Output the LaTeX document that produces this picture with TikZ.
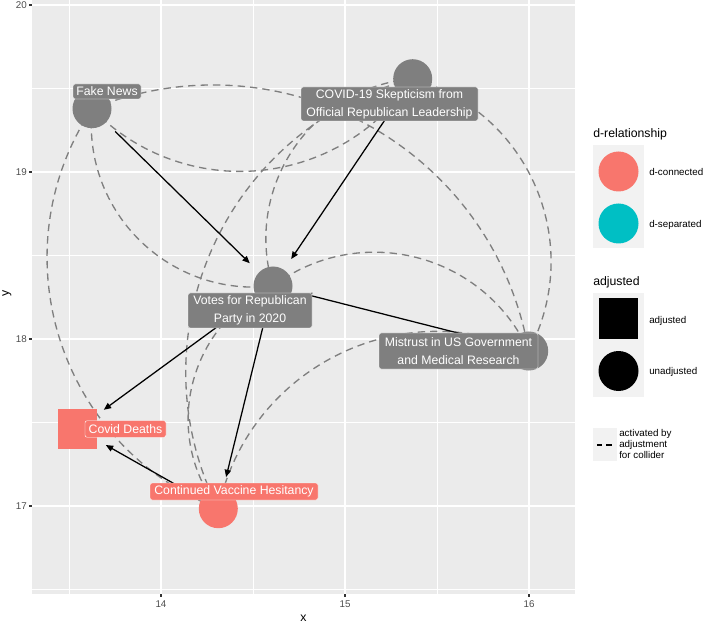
\documentclass[tikz,border=0pt]{standalone}
\usepackage{fontspec}
\setmainfont{Liberation Sans}
\usetikzlibrary{arrows.meta}

\definecolor{panelbg}{HTML}{EBEBEB}
\definecolor{keybg}{HTML}{F2F2F2}
\definecolor{nodegrey}{HTML}{7F7F7F}
\definecolor{dconn}{HTML}{F8766D}
\definecolor{dsep}{HTML}{00BFC4}
\definecolor{ticktext}{HTML}{4D4D4D}
\definecolor{tickmark}{HTML}{333333}

\begin{document}
\begin{tikzpicture}[x=0.75pt,y=0.75pt,
  majorgrid/.style={white, line width=1.1pt},
  minorgrid/.style={white, line width=0.55pt},
  dagnode/.style={circle, minimum size=29.25pt, inner sep=0pt},
  daglabel/.style={rectangle, rounded corners=1.6pt, inner sep=0pt, text=white,
    align=center, draw=white, line width=0.3pt,
    font=\fontsize{9.2}{13.5}\selectfont},
  causal/.style={draw=black, line width=0.95pt,
    -{Triangle[length=5.5pt,width=4.6pt]}, shorten <=24.4pt, shorten >=24.4pt},
  collider/.style={draw=nodegrey, line width=1pt, dash pattern=on 5.5pt off 3.8pt},
  arcL/.style={bend left=51, looseness=1.05},
  arcR/.style={bend right=51, looseness=1.05},
  tickmk/.style={draw=tickmark, line width=0.8pt},
  ticklabel/.style={text=ticktext, font=\fontsize{7.35}{8.8}\selectfont, inner sep=0pt},
  axistitle/.style={font=\fontsize{9.2}{11}\selectfont, inner sep=0pt},
  legtitle/.style={font=\fontsize{9.2}{11}\selectfont, inner sep=0pt, anchor=base west},
  legtext/.style={font=\fontsize{7.35}{8.8}\selectfont, inner sep=0pt, anchor=base west},
]
\useasboundingbox (0,0) rectangle (704,-624);
\fill[white] (0,0) rectangle (704,-624);

% panel and grid
\fill[panelbg] (32,0) rectangle (575,-594);
\foreach \gx in {69,253,437} \draw[minorgrid] (\gx,0) -- (\gx,-594);
\foreach \gy in {88.5,255.5,422.5,589.5} \draw[minorgrid] (32,-\gy) -- (575,-\gy);
\foreach \gx in {161,345,529} \draw[majorgrid] (\gx,0) -- (\gx,-594);
\foreach \gy in {5,172,339,506} \draw[majorgrid] (32,-\gy) -- (575,-\gy);

% axes
\foreach \gy/\lab in {5/20,172/19,339/18,506/17}{
  \draw[tickmk] (29,-\gy) -- (32,-\gy);
  \node[ticklabel, anchor=base east] at (27,-\gy-3.5) {\lab};
}
\foreach \gx/\lab in {161/14,345/15,529/16}{
  \draw[tickmk] (\gx,-594) -- (\gx,-597);
  \node[ticklabel, anchor=base] at (\gx,-607.5) {\lab};
}
\node[axistitle, anchor=base] (xtitle) at (303.5,-621) {x};
\node[axistitle, rotate=90] (ytitle) at (7,-293.5) {y};

% node centres
\coordinate (fn) at (92,-108.7);
\coordinate (cv) at (412.7,-78.7);
\coordinate (vt) at (273,-286);
\coordinate (mt) at (528.7,-351);
\coordinate (cd) at (77.5,-429);
\coordinate (vh) at (218.3,-508.7);

% paths opened by adjusting for the collider
\draw[collider] (fn) to[arcL] (mt);
\draw[collider] (fn) to[arcR] (cv);
\draw[collider] (fn) to[arcR] (vt);
\draw[collider] (fn) to[arcR] (vh);
\draw[collider] (cv) to[arcR] (vt);
\draw[collider] (cv) to[arcR] (vh);
\draw[collider] (cv) to[arcL] (mt);
\draw[collider] (vt) to[arcL] (mt);
\draw[collider] (vt) to[arcR] (vh);
\draw[collider] (vh) to[arcL] (mt);

% causal edges
\draw[causal] (fn) -- (vt);
\draw[causal] (cv) -- (vt);
\draw[causal] (mt) -- (vt);
\draw[causal] (vt) -- (cd);
\draw[causal] (vt) -- (vh);
\draw[causal] (vh) -- (cd);

% node markers
\node[dagnode, fill=nodegrey] (fnpt) at (fn) {};
\node[dagnode, fill=nodegrey] (cvpt) at (cv) {};
\node[dagnode, fill=nodegrey] (vtpt) at (vt) {};
\node[dagnode, fill=nodegrey] (mtpt) at (mt) {};
\node[rectangle, fill=dconn, minimum width=29.25pt, minimum height=30pt, inner sep=0pt] (cdpt) at (cd) {};
\node[dagnode, fill=dconn] (vhpt) at (vh) {};

% node labels
\node[daglabel, fill=nodegrey, minimum width=51pt, minimum height=11.25pt] (fnlab) at (107,-91.5) {Fake News};
\node[daglabel, fill=nodegrey, minimum width=132.75pt, minimum height=25.5pt] (cvlab) at (389.5,-104) {COVID-19 Skepticism from\\Official Republican Leadership};
\node[daglabel, fill=nodegrey, minimum width=93pt, minimum height=26.25pt] (vtlab) at (250,-310.5) {Votes for Republican\\Party in 2020};
\node[daglabel, fill=nodegrey, minimum width=119.25pt, minimum height=27pt] (mtlab) at (458.5,-351) {Mistrust in US Government\\and Medical Research};
\node[daglabel, fill=dconn, minimum width=60.75pt, minimum height=12.4pt] (cdlab) at (125.5,-429) {Covid Deaths};
\node[daglabel, fill=dconn, minimum width=126pt, minimum height=12.75pt] (vhlab) at (234,-491.5) {Continued Vaccine Hesitancy};

% legend: d-relationship
\node[legtitle] (legrel) at (593,-137.5) {d-relationship};
\fill[keybg] (593,-145) rectangle (644,-248);
\node[dagnode, fill=dconn, minimum size=30pt] (kconn) at (618.5,-171.5) {};
\node[dagnode, fill=dsep, minimum size=30pt] (ksep) at (618.5,-223.5) {};
\node[legtext] (tconn) at (649,-176) {d-connected};
\node[legtext] (tsep) at (649,-228) {d-separated};

% legend: adjusted
\node[legtitle] (legadj) at (593,-285.5) {adjusted};
\fill[keybg] (593,-293) rectangle (644,-397);
\node[rectangle, fill=black, minimum width=29.25pt, minimum height=30.75pt, inner sep=0pt] (kadj) at (618.5,-318.5) {};
\node[dagnode, fill=black, minimum size=30pt] (kunadj) at (618.5,-371) {};
\node[legtext] (tadj) at (649,-323.5) {adjusted};
\node[legtext] (tunadj) at (649,-374.5) {unadjusted};

% legend: collider line
\fill[keybg] (593,-428) rectangle (617,-461);
\coordinate (dashA) at (597,-445);
\coordinate (dashB) at (612,-445);
\draw[black, line width=1.3pt, dash pattern=on 4pt off 3pt] (dashA) -- (dashB);
\node[legtext] (tact1) at (619,-436.7) {activated by};
\node[legtext] (tact2) at (619,-447.5) {adjustment};
\node[legtext] (tact3) at (619,-458.3) {for collider};
\end{tikzpicture}
\end{document}
